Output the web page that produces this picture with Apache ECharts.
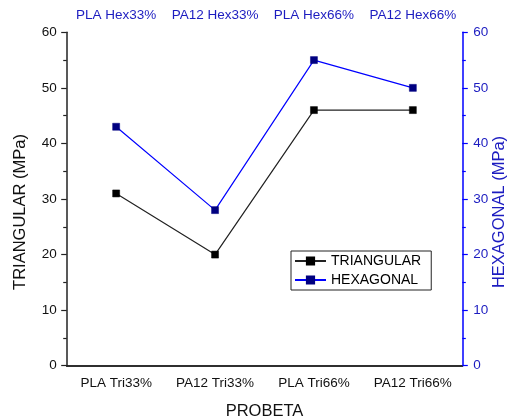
<!DOCTYPE html>
<html><head><meta charset="utf-8">
<script src="https://cdn.jsdelivr.net/npm/echarts@6/dist/echarts.min.js"></script>
<style>html,body{margin:0;padding:0;background:#fff}#c{width:509px;height:419px}</style>
</head><body><div id="c"></div>
<script>
const categoriesBottom = ['PLA Tri33%', 'PA12 Tri33%', 'PLA Tri66%', 'PA12 Tri66%'];
const categoriesTop = ['PLA Hex33%', 'PA12 Hex33%', 'PLA Hex66%', 'PA12 Hex66%'];
const triangular = [31, 20, 46, 46];
const hexagonal = [43, 28, 55, 50];

const FONT = '"Liberation Sans", Arial, sans-serif';
const BLUE = '#0000ff';
const BLUE_TXT = '#1c1cc0';
const AX = '#222';

const chart = echarts.init(document.getElementById('c'), null, {renderer: 'canvas'});
chart.setOption({
  animation: false,
  backgroundColor: '#fff',
  grid: {left: 66.7, right: 46.7, top: 32.3, bottom: 53.3, containLabel: false, outerBoundsMode: 'none'},
  legend: {
    orient: 'vertical', left: 291, top: 251,
    backgroundColor: '#fff', borderColor: '#222', borderWidth: 1,
    padding: [3, 10, 3, 3], itemGap: 5, itemWidth: 31, itemHeight: 9,
    textStyle: {fontFamily: FONT, fontSize: 14, color: '#000'},
    data: ['TRIANGULAR', 'HEXAGONAL']
  },
  xAxis: [
    {type: 'category', position: 'bottom', data: categoriesBottom,
     name: 'PROBETA', nameLocation: 'middle', nameGap: 37, nameMoveOverlap: false,
     nameTextStyle: {fontFamily: FONT, fontSize: 16.5, color: '#111'},
     axisLine: {lineStyle: {color: AX, width: 1.5}},
     axisTick: {alignWithLabel: true, length: 5, lineStyle: {color: AX, width: 1.2}},
     axisLabel: {interval: 0, fontFamily: FONT, fontSize: 13.5, color: '#111', margin: 11},
     splitLine: {show: false}},
    {type: 'category', position: 'top', data: categoriesTop,
     axisLine: {lineStyle: {color: AX, width: 1.5}},
     axisTick: {alignWithLabel: true, inside: true, length: 6, lineStyle: {color: AX, width: 1.2}},
     axisLabel: {interval: 0, fontFamily: FONT, fontSize: 13.5, color: BLUE_TXT, margin: 10},
     splitLine: {show: false}},
    {type: 'category', position: 'bottom', data: categoriesBottom, gridIndex: 0,
     axisLine: {show: false}, axisLabel: {show: false},
     axisTick: {interval: 0, length: 3.5, lineStyle: {color: AX, width: 1.2}}},
    {type: 'category', position: 'top', data: categoriesTop, gridIndex: 0,
     axisLine: {show: false}, axisLabel: {show: false},
     axisTick: {interval: 0, inside: true, length: 3.5, lineStyle: {color: AX, width: 1.2}}}
  ],
  yAxis: [
    {type: 'value', position: 'left', min: 0, max: 60, interval: 10,
     name: 'TRIANGULAR (MPa)', nameLocation: 'middle', nameGap: 38, nameRotate: 90, nameMoveOverlap: false,
     nameTextStyle: {fontFamily: FONT, fontSize: 16.5, color: '#111', padding: [0, 26, 0, 0]},
     axisLine: {show: true, lineStyle: {color: AX, width: 1.5}},
     axisTick: {show: true, length: 5.5, lineStyle: {color: AX, width: 1.2}},
     minorTick: {show: true, splitNumber: 2, length: 3.5, lineStyle: {color: AX, width: 1.2}},
     axisLabel: {fontFamily: FONT, fontSize: 13.5, color: '#111', margin: 10},
     splitLine: {show: false}},
    {type: 'value', position: 'right', min: 0, max: 60, interval: 10,
     name: 'HEXAGONAL (MPa)', nameLocation: 'middle', nameGap: 29, nameRotate: 90, nameMoveOverlap: false,
     nameTextStyle: {fontFamily: FONT, fontSize: 16.5, color: BLUE_TXT, padding: [0, 26, 0, 0]},
     axisLine: {show: true, lineStyle: {color: BLUE, width: 1.5}},
     axisTick: {show: true, length: 5.5, lineStyle: {color: BLUE, width: 1.2}},
     minorTick: {show: true, splitNumber: 2, length: 3.5, lineStyle: {color: BLUE, width: 1.2}},
     axisLabel: {fontFamily: FONT, fontSize: 13.5, color: BLUE_TXT, margin: 11},
     splitLine: {show: false}}
  ],
  series: [
    {name: 'TRIANGULAR', type: 'line', xAxisIndex: 0, yAxisIndex: 0, data: triangular,
     symbol: 'rect', symbolSize: 7, showSymbol: true,
     lineStyle: {color: '#222', width: 1.2}, itemStyle: {color: '#000', borderColor: '#000', borderWidth: 0.5}},
    {name: 'HEXAGONAL', type: 'line', xAxisIndex: 1, yAxisIndex: 1, data: hexagonal,
     symbol: 'rect', symbolSize: 7, showSymbol: true,
     lineStyle: {color: BLUE, width: 1.2}, itemStyle: {color: '#000080', borderColor: '#000080', borderWidth: 0.5}}
  ]
});
</script></body></html>
